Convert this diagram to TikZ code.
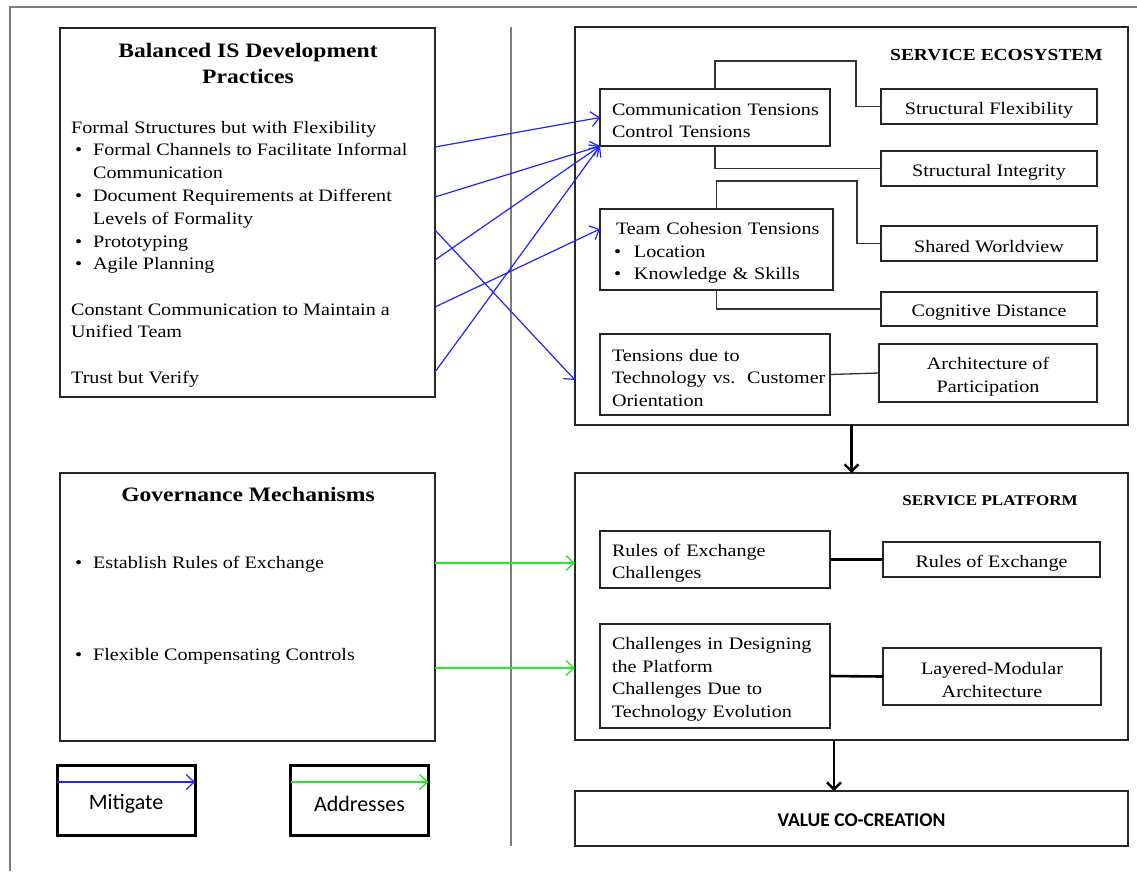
\documentclass[tikz,border=0pt]{standalone}
\usepackage{fontspec}
\setmainfont{Liberation Serif}[FakeStretch=1.15]
\newfontfamily\calibf{Carlito}
\usetikzlibrary{arrows.meta,calc}
\definecolor{mblue}{RGB}{35,35,245}
\definecolor{mgreen}{RGB}{40,235,40}
\definecolor{framegray}{RGB}{125,125,125}
\newcommand\bodysz{\fontsize{17.5}{22.5}\selectfont}
\newcommand\oneline[1]{\raisebox{-3.5pt}[\height][\depth]{#1}}
\begin{document}
\begin{tikzpicture}[x=1pt,y=-1pt,
  box/.style={draw=black!85, line width=1.3pt, rectangle, inner sep=0pt, outer sep=0pt},
  tbox/.style={box, align=left, font=\bodysz, inner xsep=12pt, anchor=north west},
  cbox/.style={box, align=center, font=\bodysz, anchor=north west},
  conn/.style={draw=black!80, line width=1.3pt},
  boldconn/.style={draw=black, line width=2.6pt},
  mitig/.style={draw=mblue, line width=1.2pt, -{Straight Barb[length=8pt,width=15pt]}},
  addr/.style={draw=mgreen, line width=1.4pt, -{Straight Barb[length=8pt,width=15pt]}},
  flow/.style={draw=black, line width=2.4pt, -{Straight Barb[length=7pt,width=14pt]}},
  txt/.style={anchor=mid west, inner sep=0pt, font=\bodysz, yshift=-3.5pt},
  hdr/.style={font=\fontsize{20.5}{26}\selectfont\bfseries, align=center, inner sep=0pt},
  legbox/.style={draw=black, line width=3pt, minimum width=138pt, minimum height=70pt, inner sep=0pt, outer sep=0pt},
  legtxt/.style={font=\calibf\fontsize{22}{26}\selectfont, inner sep=0pt},
]
\useasboundingbox (0,0) rectangle (1137,871);
\fill[white] (0,0) rectangle (1137,871);

% outer frame and divider
\draw[framegray, line width=2pt] (10,871) -- (10,7) -- (1137,7);
\draw[framegray, line width=2.2pt] (511,27) -- (511,846);

% ---------- Balanced IS Development Practices ----------
\node[box, minimum width=375pt, minimum height=369pt, anchor=north west] (bal) at (60,28) {};
\node[hdr] (balt) at (248,63) {Balanced IS Development\\Practices};
\node[txt] (l1) at (71,128) {Formal Structures but with Flexibility};
\node[txt] (b1) at (75,150) {\textbullet};
\node[txt] (l2) at (93,150) {Formal Channels to Facilitate Informal};
\node[txt] (l3) at (93,173) {Communication};
\node[txt] (b2) at (75,196) {\textbullet};
\node[txt] (l4) at (93,196) {Document Requirements at Different};
\node[txt] (l5) at (93,219) {Levels of Formality};
\node[txt] (b3) at (75,242) {\textbullet};
\node[txt] (l6) at (93,242) {Prototyping};
\node[txt] (b4) at (75,264) {\textbullet};
\node[txt] (l7) at (93,264) {Agile Planning};
\node[txt] (l8) at (71,310) {Constant Communication to Maintain a};
\node[txt] (l9) at (71,332) {Unified Team};
\node[txt] (l10) at (71,378) {Trust but Verify};

% ---------- Governance Mechanisms ----------
\node[box, minimum width=375pt, minimum height=268pt, anchor=north west] (gov) at (60,473) {};
\node[hdr] (govt) at (248,494) {Governance Mechanisms};
\node[txt] (gb1) at (75,563) {\textbullet};
\node[txt] (g1) at (93,563) {Establish Rules of Exchange};
\node[txt] (gb2) at (75,655) {\textbullet};
\node[txt] (g2) at (93,655) {Flexible Compensating Controls};

% ---------- Legend ----------
\node[legbox] (lm) at (126,800) {};
\node[legtxt] (lmt) at (126,804) {Mitigate};
\node[legbox] (la) at (359.5,800) {};
\node[legtxt] (lat) at (359.5,804) {Addresses};
\draw[mitig] (lm.west |- 0,782) -- (lm.east |- 0,782);
\draw[addr] (la.west |- 0,782) -- (la.east |- 0,782);

% ---------- Service Ecosystem ----------
\node[box, minimum width=553pt, minimum height=398pt, anchor=north west] (eco) at (575,27) {};
\node[font=\fontsize{16.9}{20}\selectfont\bfseries, inner sep=0pt] (ecot) at (996.5,55) {SERVICE ECOSYSTEM};
\node[tbox, text width=206pt, minimum height=57pt] (comm) at (600,89) {\oneline{Communication Tensions}\\\oneline{Control Tensions}};
\node[cbox, minimum width=216pt, minimum height=35pt] (sflex) at (881,89) {\oneline{Structural Flexibility}};
\node[cbox, minimum width=216pt, minimum height=35pt] (sint) at (881,151) {\oneline{Structural Integrity}};
\node[tbox, inner xsep=14pt, text width=205pt, minimum height=81pt] (team) at (600,209)
  {\oneline{\hspace*{2pt}Team Cohesion Tensions}\\\oneline{\makebox[20pt][l]{\textbullet}Location}\\\oneline{\makebox[20pt][l]{\textbullet}Knowledge \& Skills}};
\node[cbox, minimum width=216pt, minimum height=35pt] (shared) at (881,226) {\oneline{Shared Worldview}};
\node[cbox, minimum width=216pt, minimum height=34pt] (cog) at (881,292) {\oneline{Cognitive Distance}};
\node[tbox, text width=206pt, minimum height=81pt] (tens) at (600,334) {\oneline{Tensions due to}\\\oneline{Technology vs.\ \ Customer}\\\oneline{Orientation}};
\node[cbox, minimum width=218pt, minimum height=58pt] (arch) at (879,344) {\oneline{Architecture of}\\\oneline{Participation}};

\draw[conn] (comm.north) |- (856,61) |- (sflex.west);
\draw[conn] (comm.south) |- (sint.west);
\draw[conn] (team.north) |- (857,181) |- (shared.west);
\draw[conn] (team.south) |- (cog.west);
\draw[conn] (tens.east) -- (arch.west);

% ---------- Service Platform ----------
\node[box, minimum width=553pt, minimum height=267pt, anchor=north west] (plat) at (575,473) {};
\node[font=\fontsize{14.8}{18}\selectfont\bfseries, inner sep=0pt] (platt) at (990,501) {SERVICE PLATFORM};
\node[tbox, text width=206pt, minimum height=57pt] (roec) at (600,531) {\oneline{Rules of Exchange}\\\oneline{Challenges}};
\node[cbox, minimum width=217pt, minimum height=35pt] (roe) at (883,542) {\oneline{Rules of Exchange}};
\node[tbox, text width=206pt, minimum height=104pt] (chal) at (600,624) {\oneline{Challenges in Designing}\\\oneline{the Platform}\\\oneline{Challenges Due to}\\\oneline{Technology Evolution}};
\node[cbox, minimum width=218pt, minimum height=57pt] (lay) at (883,648) {\oneline{Layered-Modular}\\\oneline{Architecture}};
\draw[boldconn] (roec.east) -- (roe.west);
\draw[boldconn] (chal.east) -- (lay.west);

% ---------- Value co-creation ----------
\node[box, minimum width=553pt, minimum height=55pt, anchor=north west,
  font=\calibf\fontsize{19.5}{22}\selectfont\bfseries] (value) at (575,791) {\hspace*{20pt}\raisebox{-2pt}[\height][\depth]{VALUE CO-CREATION}};

% ---------- flows ----------
\draw[flow] (eco.south) -- (plat.north);
\draw[flow] (plat.south -| 834,0) -- (value.north -| 834,0);

% mitigate arrows
\draw[mitig] (bal.east |- 0,147) -- (comm.west);
\draw[mitig] (bal.east |- 0,197) -- (comm.south west);
\draw[mitig] (bal.east |- 0,260) -- (comm.south west);
\draw[mitig] (bal.east |- 0,307) -- ($(team.north west)+(0,20)$);
\draw[mitig] (bal.east |- 0,372) -- (comm.south west);
\draw[mitig] (bal.east |- 0,230) -- (eco.west |- 0,380);

% addresses arrows
\draw[addr] (gov.east |- 0,563) -- (plat.west |- 0,563);
\draw[addr] (gov.east |- 0,668) -- (plat.west |- 0,668);
\end{tikzpicture}
\end{document}
